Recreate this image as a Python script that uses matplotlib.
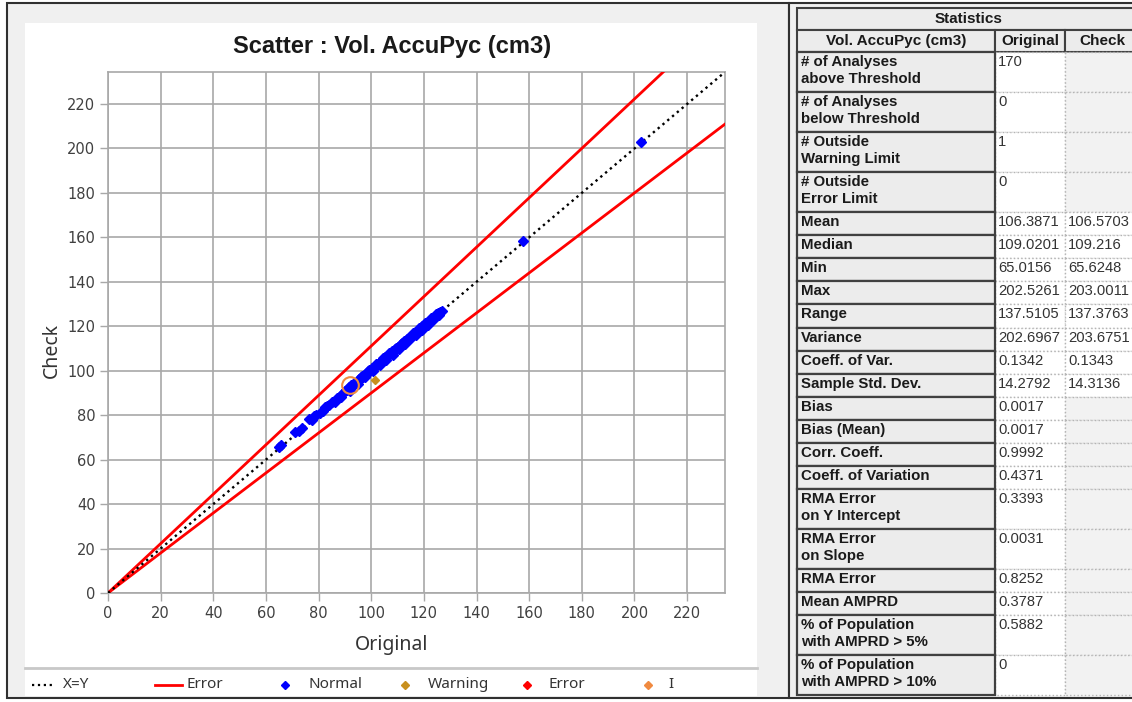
import matplotlib
matplotlib.use("Agg")
import matplotlib.pyplot as plt
from matplotlib.patches import Rectangle

# scatter data (Original vs Check)
original = [65.0, 65.9, 71.0, 72.4, 73.6, 76.2, 77.5, 78.3, 79.1, 80.4,
            81.6, 82.5, 83.2, 84.0, 85.1, 86.3, 87.0, 88.2, 89.1, 90.0,
            90.8, 91.5, 92.3, 93.0, 93.8, 94.5, 95.3, 96.0, 96.8, 97.4,
            98.1, 98.9, 99.6, 100.3, 100.9, 101.6, 102.2, 102.9, 103.5, 104.1,
            104.8, 105.4, 106.0, 106.7, 107.3, 107.9, 108.5, 109.0, 109.6, 110.2,
            110.8, 111.3, 111.9, 112.4, 113.0, 113.6, 114.1, 114.7, 115.2, 115.8,
            116.4, 116.9, 117.5, 118.1, 118.6, 119.2, 119.8, 120.3, 120.9, 121.5,
            122.0, 122.6, 123.2, 123.8, 124.3, 124.9, 125.5, 126.2, 126.8, 157.8,
            202.5,
            88.7, 90.4, 91.9, 93.4, 94.9, 96.4, 97.8, 99.2, 100.6, 101.9,
            103.2, 104.5, 105.7, 106.9, 108.1, 109.3, 110.5, 111.6, 112.7, 113.8,
            114.9, 116.0, 117.1, 118.2, 119.3, 120.4, 121.5, 122.6, 123.6, 124.6,
            125.6]
check = [65.6, 66.4, 72.5, 73.0, 74.4, 78.4, 78.0, 79.6, 80.3, 80.9,
         82.0, 83.5, 84.1, 84.6, 85.9, 86.1, 87.8, 88.5, 89.9, 90.7,
         91.2, 92.6, 93.4, 93.2, 94.6, 95.1, 96.1, 97.0, 97.2, 98.3,
         98.6, 99.8, 100.1, 101.2, 101.4, 102.3, 102.8, 103.6, 103.9, 105.0,
         105.2, 106.1, 106.5, 107.4, 107.6, 108.7, 108.9, 109.9, 109.8, 110.9,
         111.2, 112.1, 112.2, 113.2, 113.4, 114.3, 114.5, 115.4, 115.6, 116.5,
         116.7, 117.6, 117.8, 118.8, 118.9, 119.9, 120.1, 121.0, 121.2, 122.1,
         122.3, 123.1, 123.5, 124.2, 124.6, 125.3, 125.8, 126.5, 127.0, 158.3,
         203.0,
         88.0, 91.5, 91.1, 94.5, 94.1, 97.5, 97.0, 100.3, 99.9, 103.0,
         102.4, 105.6, 104.9, 108.0, 107.3, 110.4, 109.7, 112.7, 111.9, 114.9,
         114.1, 117.1, 116.3, 119.3, 118.5, 121.4, 120.7, 123.6, 122.9, 125.6,
         124.9]
warning_x = [101.5]
warning_y = [95.8]
selected_x = [92.0]
selected_y = [93.5]

# reference lines
xy_line = [0, 234.4]
err_x = [0, 240]
err_hi = [0, 266.7]
err_lo = [0, 216]

ticks = list(range(0, 240, 20))

# statistics table
stat_labels = ["# of Analyses\nabove Threshold", "# of Analyses\nbelow Threshold",
               "# Outside\nWarning Limit", "# Outside\nError Limit",
               "Mean", "Median", "Min", "Max", "Range", "Variance",
               "Coeff. of Var.", "Sample Std. Dev.", "Bias", "Bias (Mean)",
               "Corr. Coeff.", "Coeff. of Variation", "RMA Error\non Y Intercept",
               "RMA Error\non Slope", "RMA Error", "Mean AMPRD",
               "% of Population\nwith AMPRD > 5%", "% of Population\nwith AMPRD > 10%"]
orig_vals = ["170", "0", "1", "0", "106.3871", "109.0201", "65.0156", "202.5261",
             "137.5105", "202.6967", "0.1342", "14.2792", "0.0017", "0.0017",
             "0.9992", "0.4371", "0.3393", "0.0031", "0.8252", "0.3787", "0.5882", "0"]
check_vals = ["", "", "", "", "106.5703", "109.216", "65.6248", "203.0011",
              "137.3763", "203.6751", "0.1343", "14.3136", "", "", "", "", "",
              "", "", "", "", ""]

legend_labels = ["X=Y", "Error", "Normal", "Warning", "Error", "I"]

blue = '#0000ff'
red = '#ff0000'
warn_clr = '#c8901e'
sel_clr = '#f08a40'
grid_clr = '#a8a8a8'

W, H = 1132, 702
fig = plt.figure(figsize=(W / 100, H / 100), dpi=100)

# background layer in pixel coordinates
bg = fig.add_axes([0, 0, 1, 1])
bg.set_xlim(0, W)
bg.set_ylim(H, 0)
bg.axis('off')

bg.add_patch(Rectangle((7, 3), 782, 695, facecolor='#f0f0f0', edgecolor='#303030', lw=1.5))
bg.add_patch(Rectangle((25, 23), 732, 673, facecolor='white', edgecolor='none'))
bg.plot([25, 757], [668, 668], color='#c8c8c8', lw=2)
bg.add_patch(Rectangle((789, 3), 350, 695, facecolor='#f0f0f0', edgecolor='#303030', lw=1.5))

bg.text(392, 47, "Scatter : Vol. AccuPyc (cm3)", ha='center', va='center',
        fontsize=17, fontweight='bold', color='#1a1a1a', family='Liberation Sans')
bg.text(392, 645, "Original", ha='center', va='center', fontsize=14,
        color='#333333', family='Noto Sans')
bg.text(52, 350, "Check", ha='center', va='center', fontsize=14, rotation=90,
        color='#333333', family='Noto Sans')

# legend row
ly = 685
bg.plot([32, 55], [ly, ly], color='black', ls=':', lw=1.6)
bg.plot([155, 182], [ly, ly], color=red, lw=2)
marker_pos = [285, 405, 527, 648]
marker_clr = [blue, warn_clr, red, sel_clr]
for mx, mc in zip(marker_pos, marker_clr):
    bg.plot([mx], [ly], marker='D', ms=4.5, color=mc, ls='none')
text_pos = [63, 187, 308, 428, 548, 668]
for tx, lab in zip(text_pos, legend_labels):
    bg.text(tx, ly, lab, ha='left', va='center', fontsize=11, color='#333333',
            family='Noto Sans')

# statistics table
x0, x1, x2, x3 = 797, 995, 1065, 1140
label_bg = '#ececec'
bg.add_patch(Rectangle((x0, 8), x3 - x0, 22, facecolor=label_bg, edgecolor='#404040', lw=1.5))
bg.text((x0 + x3) / 2, 19, "Statistics", ha='center', va='center', fontsize=11,
        fontweight='bold', color='#1a1a1a', family='Liberation Sans')
for (a, b), txt in zip([(x0, x1), (x1, x2), (x2, x3)],
                       ["Vol. AccuPyc (cm3)", "Original", "Check"]):
    bg.add_patch(Rectangle((a, 30), b - a, 22, facecolor=label_bg, edgecolor='#404040', lw=1.5))
    bg.text((a + b) / 2, 41, txt, ha='center', va='center', fontsize=11,
            fontweight='bold', color='#1a1a1a', family='Liberation Sans')

top = 52
for lab, ov, cv in zip(stat_labels, orig_vals, check_vals):
    h = 40 if '\n' in lab else 23.1
    bg.add_patch(Rectangle((x1, top), x2 - x1, h, facecolor='white',
                           edgecolor='#b4b4b4', lw=1, ls=':'))
    bg.add_patch(Rectangle((x2, top), x3 - x2, h, facecolor='white' if cv else '#f2f2f2',
                           edgecolor='#b4b4b4', lw=1, ls=':'))
    bg.add_patch(Rectangle((x0, top), x1 - x0, h, facecolor=label_bg,
                           edgecolor='#404040', lw=1.6))
    bg.text(801, top + 3, lab, ha='left', va='top', fontsize=10.8, fontweight='bold',
            color='#1a1a1a', family='Liberation Sans', linespacing=1.25)
    bg.text(998, top + 3, ov, ha='left', va='top', fontsize=10.6,
            color='#333333', family='Liberation Sans')
    bg.text(1068, top + 3, cv, ha='left', va='top', fontsize=10.6,
            color='#333333', family='Liberation Sans')
    top += h

# scatter plot axes
ax = fig.add_axes([108 / W, 1 - 593 / H, 617 / W, 521 / H])
ax.set_xlim(0, 234.4)
ax.set_ylim(0, 234.4)
ax.set_xticks(ticks)
ax.set_yticks(ticks)
ax.grid(True, color=grid_clr, lw=1.2)
ax.set_axisbelow(True)
for s in ax.spines.values():
    s.set_color(grid_clr)
    s.set_linewidth(1.2)
ax.tick_params(length=6, width=1, color=grid_clr, labelsize=10.5,
               labelcolor='#404040', pad=3)
for lbl in ax.get_xticklabels() + ax.get_yticklabels():
    lbl.set_family('DejaVu Sans')

ax.plot(err_x, err_hi, color=red, lw=2, zorder=3)
ax.plot(err_x, err_lo, color=red, lw=2, zorder=3)
ax.plot(xy_line, xy_line, color='black', ls=':', lw=1.7, zorder=3)
ax.plot(original, check, ls='none', marker='D', ms=5.2, color=blue, zorder=4)
ax.plot(warning_x, warning_y, ls='none', marker='D', ms=4.5, color=warn_clr, zorder=4)
ax.plot(selected_x, selected_y, ls='none', marker='o', ms=12, mfc='none',
        mec=sel_clr, mew=1.5, zorder=5)

fig.savefig('out.png', dpi=100)
